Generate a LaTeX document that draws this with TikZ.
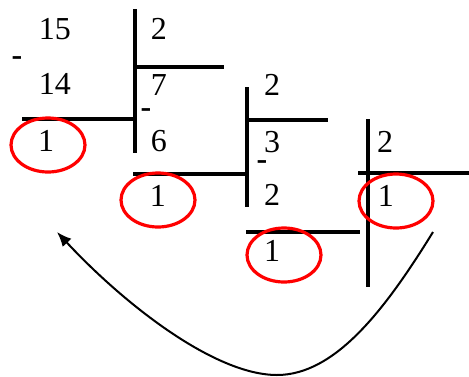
\documentclass[tikz,border=0pt]{standalone}
\usepackage{fontspec}
\setmainfont{Liberation Serif}
\usetikzlibrary{arrows.meta}
\begin{document}
\begin{tikzpicture}[x=0.75pt,y=-0.75pt,
  num/.style={inner sep=0pt,font=\fontsize{24}{24}\selectfont},
  minus/.style={inner sep=0pt,font=\fontsize{24}{24}\selectfont\bfseries},
  bar/.style={line width=2.4pt,line cap=rect},
  ring/.style={draw=red,line width=2.4pt},
  curvearrow/.style={line width=1.5pt,-{Latex[length=11pt,width=9pt]}}]
\useasboundingbox (0,0) rectangle (469,376);
% first division 15 / 2
\node[num] (n15) at (55,29) {15};
\node[minus] (m1) at (17,61) {-};
\node[num] (n14) at (55,84) {14};
\node[num] (n1a) at (46,141) {1};
\node[num] (n2a) at (159,29) {2};
\node[num] (n7) at (159,85) {7};
\node[minus] (m2) at (146,113) {-};
\node[num] (n6) at (159,141) {6};
\node[num] (n1b) at (158,196) {1};
% second column
\node[num] (n2b) at (272,85) {2};
\node[num] (n3) at (272,142) {3};
\node[minus] (m3) at (262,165) {-};
\node[num] (n2c) at (272,195) {2};
\node[num] (n1c) at (272,251) {1};
% third column
\node[num] (n2d) at (385,142) {2};
\node[num] (n1d) at (386,196) {1};
% bars
\draw[bar] (135,11) -- (135,151);
\draw[bar] (135,67) -- (222,67);
\draw[bar] (24,119) -- (135,119);
\draw[bar] (135,174) -- (247,174);
\draw[bar] (247,89) -- (247,205);
\draw[bar] (247,120) -- (326,120);
\draw[bar] (248,232) -- (358,232);
\draw[bar] (368,121) -- (368,285);
\draw[bar] (360,173) -- (469,173);
% red rings
\draw[ring] (48,145) ellipse [x radius=37, y radius=27];
\draw[ring] (158,200) ellipse [x radius=37, y radius=27];
\draw[ring] (284,255) ellipse [x radius=37, y radius=27];
\draw[ring] (396,201) ellipse [x radius=37, y radius=27];
% arrow
\coordinate (a0) at (433,232);
\coordinate (a1) at (57,232);
\draw[curvearrow] (a0) .. controls (385,310) and (335,375) .. (277,375)
  .. controls (215,375) and (125,305) .. (a1);
\end{tikzpicture}
\end{document}
